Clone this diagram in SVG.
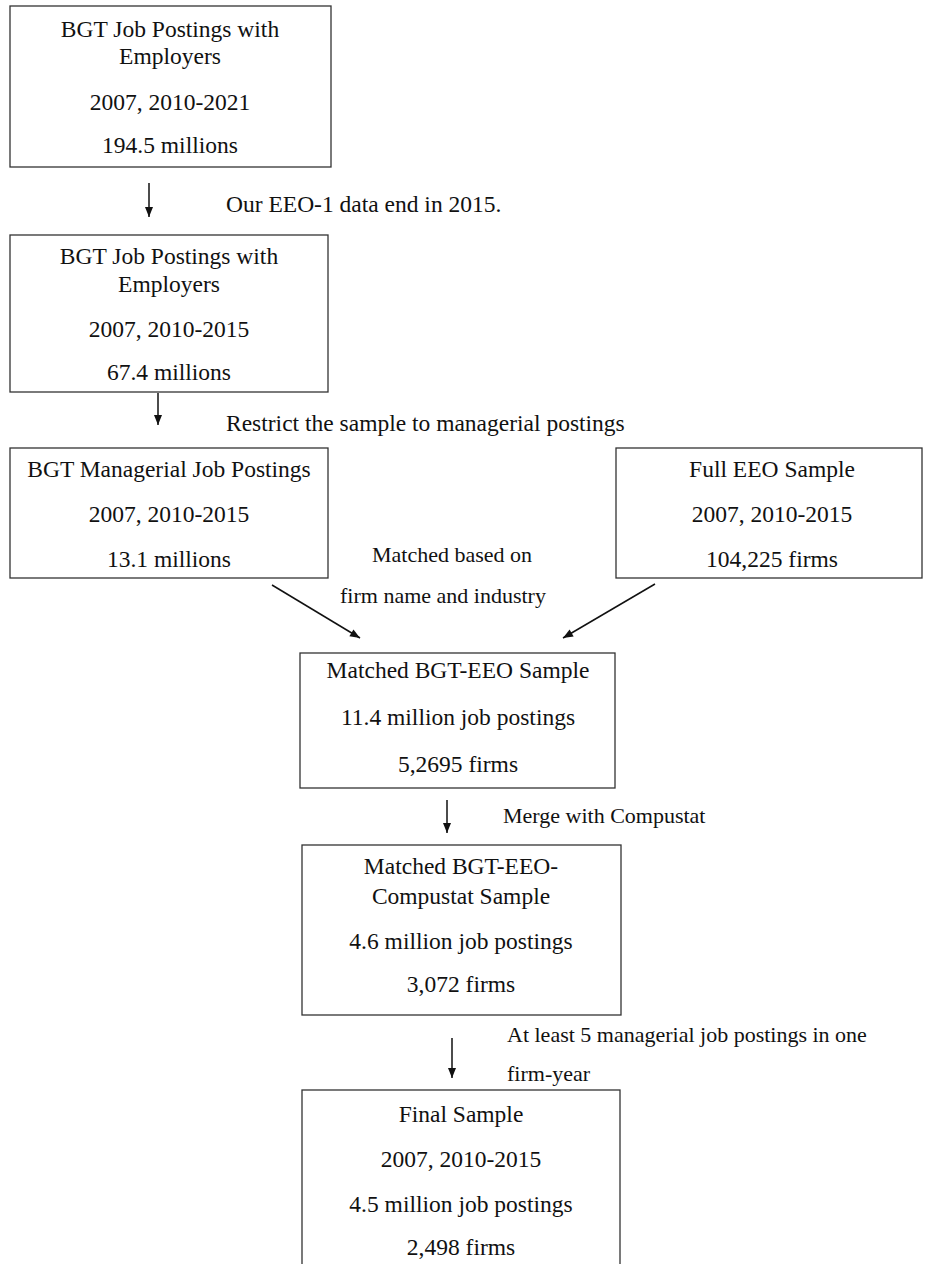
<svg xmlns="http://www.w3.org/2000/svg" width="925" height="1264" viewBox="0 0 925 1264">
<style>
.box{fill:#fff;stroke:#333;stroke-width:1.3}
text{font-family:"Liberation Serif","Times New Roman",serif;font-size:23.5px;fill:#111}
.c{text-anchor:middle}
.s{font-size:22px}
.conn{stroke:#111;stroke-width:1.5;fill:none}
</style>
<defs>
<marker id="ah" viewBox="0 0 10 10" refX="10" refY="5" markerWidth="11" markerHeight="10" markerUnits="userSpaceOnUse" orient="auto">
<path d="M0,1 L10,5 L0,9 Z" fill="#111"/>
</marker>
</defs>
<rect width="925" height="1264" fill="#fff"/>
<g id="n1">
<rect class="box" x="10" y="6" width="321" height="161"/>
<text class="c" x="170" y="37">BGT Job Postings with</text>
<text class="c" x="170" y="64">Employers</text>
<text class="c" x="170" y="110">2007, 2010-2021</text>
<text class="c" x="170" y="153">194.5 millions</text>
</g>
<g id="n2">
<rect class="box" x="10" y="235" width="318" height="157"/>
<text class="c" x="169" y="264">BGT Job Postings with</text>
<text class="c" x="169" y="292">Employers</text>
<text class="c" x="169" y="337">2007, 2010-2015</text>
<text class="c" x="169" y="380">67.4 millions</text>
</g>
<g id="n3">
<rect class="box" x="10" y="448" width="318" height="130"/>
<text class="c" x="169" y="477">BGT Managerial Job Postings</text>
<text class="c" x="169" y="522">2007, 2010-2015</text>
<text class="c" x="169" y="567">13.1 millions</text>
</g>
<g id="n4">
<rect class="box" x="616" y="448" width="306" height="130"/>
<text class="c" x="772" y="477">Full EEO Sample</text>
<text class="c" x="772" y="522">2007, 2010-2015</text>
<text class="c" x="772" y="567">104,225 firms</text>
</g>
<g id="n5">
<rect class="box" x="300" y="653" width="315" height="135"/>
<text class="c" x="458" y="678">Matched BGT-EEO Sample</text>
<text class="c" x="458" y="725">11.4 million job postings</text>
<text class="c" x="458" y="772">5,2695 firms</text>
</g>
<g id="n6">
<rect class="box" x="302" y="845" width="319" height="170"/>
<text class="c" x="461" y="874">Matched BGT-EEO-</text>
<text class="c" x="461" y="904">Compustat Sample</text>
<text class="c" x="461" y="949">4.6 million job postings</text>
<text class="c" x="461" y="992">3,072 firms</text>
</g>
<g id="n7">
<rect class="box" x="302" y="1090" width="318" height="190"/>
<text class="c" x="461" y="1122">Final Sample</text>
<text class="c" x="461" y="1167">2007, 2010-2015</text>
<text class="c" x="461" y="1212">4.5 million job postings</text>
<text class="c" x="461" y="1255">2,498 firms</text>
</g>
<g id="connectors">
<line class="conn" x1="149" y1="183" x2="149" y2="217" marker-end="url(#ah)"/>
<line class="conn" x1="158" y1="393" x2="158" y2="425" marker-end="url(#ah)"/>
<line class="conn" x1="272" y1="585" x2="360" y2="638" marker-end="url(#ah)"/>
<line class="conn" x1="655" y1="584" x2="563" y2="638" marker-end="url(#ah)"/>
<line class="conn" x1="447" y1="800" x2="447" y2="833" marker-end="url(#ah)"/>
<line class="conn" x1="452" y1="1038" x2="452" y2="1078" marker-end="url(#ah)"/>
</g>
<g id="labels">
<text x="226" y="212">Our EEO-1 data end in 2015.</text>
<text x="226" y="431">Restrict the sample to managerial postings</text>
<text class="c s" x="452" y="562">Matched based on</text>
<text class="c s" x="443" y="603">firm name and industry</text>
<text class="s" x="503" y="823">Merge with Compustat</text>
<text class="s" x="507" y="1042">At least 5 managerial job postings in one</text>
<text class="s" x="507" y="1081">firm-year</text>
</g>
</svg>
